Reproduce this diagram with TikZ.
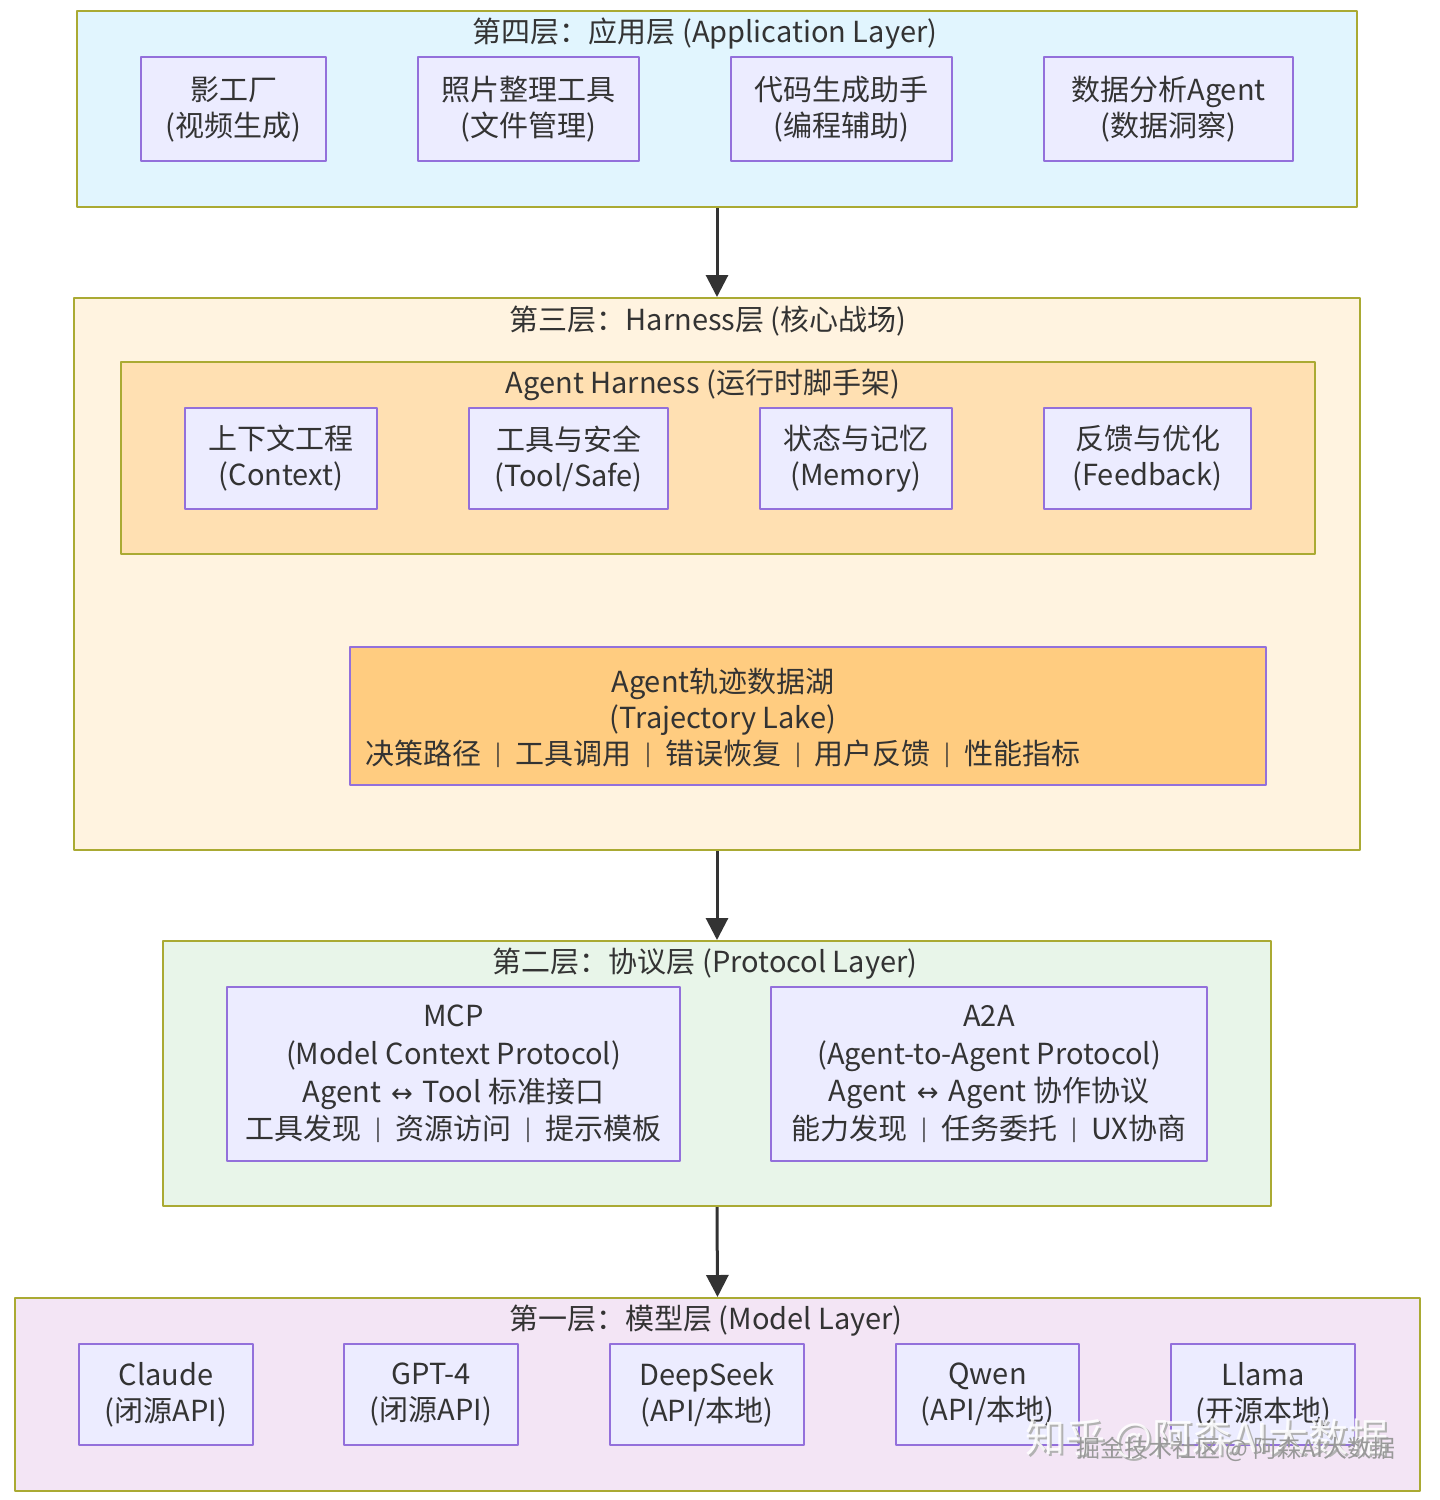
\documentclass[tikz,border=0pt]{standalone}
\usepackage{fontspec}
\setmainfont{Noto Sans CJK SC}
\newfontfamily\arrowfont{DejaVu Sans}
\usetikzlibrary{arrows.meta}
\definecolor{nodefill}{HTML}{ECECFF}
\definecolor{nodeline}{HTML}{9370DB}
\definecolor{clusterline}{HTML}{AAAA33}
\definecolor{appfill}{HTML}{E1F5FE}
\definecolor{harnessfill}{HTML}{FFF3E0}
\definecolor{innerfill}{HTML}{FFE0B2}
\definecolor{lakefill}{HTML}{FFCC80}
\definecolor{protofill}{HTML}{E8F5E9}
\definecolor{modelfill}{HTML}{F3E5F5}
\definecolor{textc}{HTML}{333333}
\newcommand\sepbar{\hspace{7pt}\raisebox{1.5pt}{\fontsize{11}{11}\selectfont|}\hspace{7pt}}
\newcommand\lrarrow{\hspace{5pt}{\arrowfont\fontsize{13}{13}\selectfont ↔}\hspace{5pt}}
\begin{document}
\begin{tikzpicture}[x=.5pt,y=-.5pt, line join=round,
    font=\fontsize{14.5}{18}\selectfont, text=textc]
  \tikzset{
    layer/.style={draw=clusterline, line width=1pt, inner sep=0pt},
    box/.style={draw=nodeline, fill=nodefill, line width=1pt, inner sep=0pt, align=center},
    title/.style={inner sep=0pt},
    arr/.style={draw=textc, line width=1.5pt, -{Triangle[length=11pt,width=11pt]}},
    mark/.style={inner sep=0pt, font=\fontsize{#1}{#1}\selectfont}
  }
  \def\u{.5pt}
  \useasboundingbox[fill=white] (0,0) rectangle (1440,1500);
  % layer 4
  \node[layer, fill=appfill, minimum width=1280*\u, minimum height=196*\u] (L4) at (717,109) {};
  \node[title] (t4) at (705,34) {第四层：应用层 (Application Layer)};
  \node[box, minimum width=185*\u, minimum height=104*\u] (ying) at (233.5,109) {影工厂\\(视频生成)};
  \node[box, minimum width=221*\u, minimum height=104*\u] (photo) at (528.5,109) {照片整理工具\\(文件管理)};
  \node[box, minimum width=221*\u, minimum height=104*\u] (code) at (841.5,109) {代码生成助手\\(编程辅助)};
  \node[box, minimum width=249*\u, minimum height=104*\u] (data) at (1168.5,109) {数据分析Agent\\(数据洞察)};
  % layer 3
  \node[layer, fill=harnessfill, minimum width=1286*\u, minimum height=552*\u] (L3) at (717,574) {};
  \node[title] (t3) at (708,321) {第三层：Harness层 (核心战场)};
  \node[layer, fill=innerfill, minimum width=1194*\u, minimum height=192*\u] (H) at (718,458) {};
  \node[title] (th) at (703,385) {Agent Harness (运行时脚手架)};
  \node[box, minimum width=192*\u, minimum height=101*\u] (ctx) at (281,458.5) {上下文工程\\(Context)};
  \node[box, minimum width=199*\u, minimum height=101*\u] (tool) at (568.5,458.5) {工具与安全\\(Tool/Safe)};
  \node[box, minimum width=192*\u, minimum height=101*\u] (mem) at (856,458.5) {状态与记忆\\(Memory)};
  \node[box, minimum width=207*\u, minimum height=101*\u] (fb) at (1147.5,458.5) {反馈与优化\\(Feedback)};
  \node[box, fill=lakefill, minimum width=916*\u, minimum height=138*\u] (lake) at (808,716) {};
  \node[title, align=center] (laketext) at (723,718) {Agent轨迹数据湖\\(Trajectory Lake)\\决策路径\sepbar 工具调用\sepbar 错误恢复\sepbar 用户反馈\sepbar 性能指标};
  % layer 2
  \node[layer, fill=protofill, minimum width=1108*\u, minimum height=265*\u] (L2) at (717,1073.5) {};
  \node[title] (t2) at (705,964) {第二层：协议层 (Protocol Layer)};
  \node[box, minimum width=453*\u, minimum height=174*\u, font=\fontsize{14.5}{18.8}\selectfont] (mcp) at (453.5,1074)
    {MCP\\(Model Context Protocol)\\Agent\lrarrow Tool 标准接口\\工具发现\sepbar 资源访问\sepbar 提示模板};
  \node[box, minimum width=436*\u, minimum height=174*\u, font=\fontsize{14.5}{18.8}\selectfont] (a2a) at (989,1074)
    {A2A\\(Agent-to-Agent Protocol)\\Agent\lrarrow Agent 协作协议\\能力发现\sepbar 任务委托\sepbar UX协商};
  % layer 1
  \node[layer, fill=modelfill, minimum width=1405*\u, minimum height=193*\u] (L1) at (717.5,1394.5) {};
  \node[title] (t1) at (706,1321) {第一层：模型层 (Model Layer)};
  \foreach \n/\x/\w/\a/\b in {claude/166/174/Claude/(闭源API), gpt/431/174/GPT-4/(闭源API),
      deepseek/707/194/DeepSeek/{(API/本地)}, qwen/987.5/183/Qwen/{(API/本地)}, llama/1263/184/Llama/(开源本地)}
    \node[box, minimum width=\w*\u, minimum height=101*\u] (\n) at (\x,1394.5) {\a\\\b};
  % connectors
  \draw[arr] (L4.south) -- (L3.north);
  \draw[arr] (L3.south) -- (L2.north);
  \draw[arr] (L2.south) -- (L1.north);
  % watermark
  \node[mark=20, text=gray!60] (zh1) at (1209,1441) {知乎 @阿森AI大数据};
  \node[mark=20, text=white, opacity=.85] (zh2) at (1207,1439) {知乎 @阿森AI大数据};
  \node[mark=12, text=gray!80] (jj) at (1236,1449) {掘金技术社区 @ 阿森AI大数据};
\end{tikzpicture}
\end{document}
